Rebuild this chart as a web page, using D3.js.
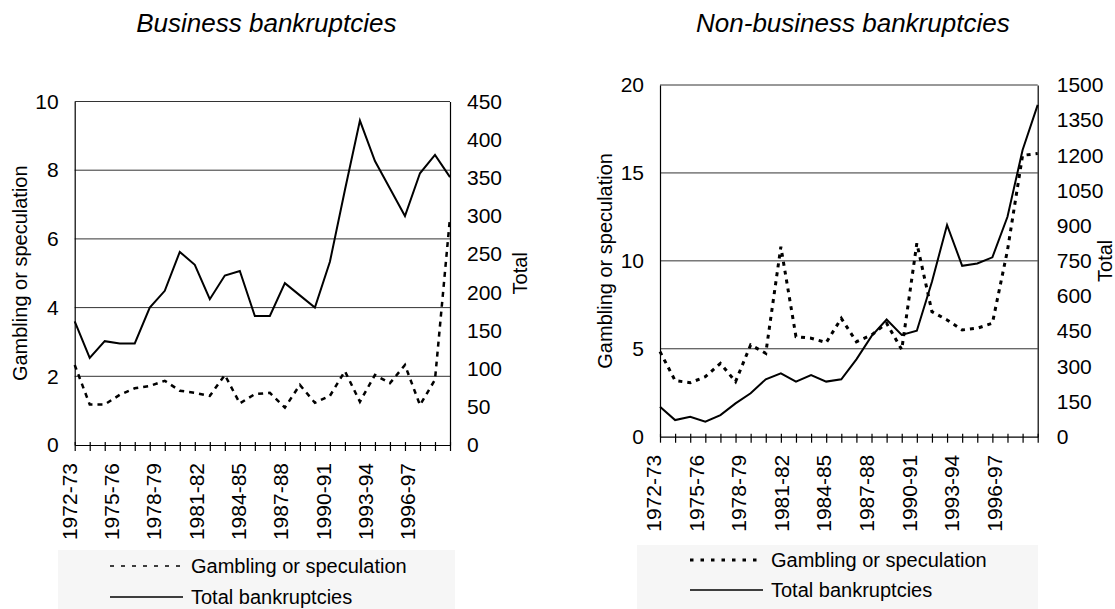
<!DOCTYPE html>
<html>
<head>
<meta charset="utf-8">
<script src="https://cdn.jsdelivr.net/npm/d3@7"></script>
<style>
  body { margin: 0; background: #fff; }
  svg { display: block; }
</style>
</head>
<body>
<div class="chart"></div>
<script>
const FONT = "'Liberation Sans', Arial, Helvetica, sans-serif"

// 年度
const years = [
  "1972-73", "1973-74", "1974-75", "1975-76", "1976-77", "1977-78", "1978-79",
  "1979-80", "1980-81", "1981-82", "1982-83", "1983-84", "1984-85", "1985-86",
  "1986-87", "1987-88", "1988-89", "1989-90", "1990-91", "1991-92", "1992-93",
  "1993-94", "1994-95", "1995-96", "1996-97", "1997-98",
]
// 横轴只标注每三年
const labeledYears = years.filter((d, i) => i % 3 === 0 && i < 25)

// Business bankruptcies
const businessGambling = [
  2.33, 1.18, 1.18, 1.46, 1.65, 1.72, 1.87, 1.58, 1.52, 1.43, 2.04, 1.21, 1.48,
  1.52, 1.09, 1.75, 1.23, 1.43, 2.15, 1.26, 2.04, 1.8, 2.33, 1.16, 1.9, 6.62,
]
const businessTotal = [
  162, 114, 136, 133, 133, 180, 202, 253, 236, 191, 222, 228, 169, 169, 212,
  196, 180, 240, 334, 425, 372, 336, 300, 356, 380, 351,
]

// Non-business bankruptcies
const nonBusinessGambling = [
  4.84, 3.19, 3.07, 3.41, 4.17, 3.13, 5.22, 4.74, 10.8, 5.69, 5.6, 5.35, 6.73,
  5.4, 5.78, 6.45, 4.95, 11.0, 7.11, 6.64, 6.07, 6.17, 6.45, 10.6, 16.0, 16.1,
]
const nonBusinessTotal = [
  128, 71, 85, 64, 92, 142, 185, 245, 270, 235, 263, 235, 245, 330, 429, 500,
  434, 452, 661, 903, 729, 739, 765, 938, 1223, 1415,
]

// 刻度
const businessLeftTicks = [0, 2, 4, 6, 8, 10]
const businessRightTicks = [0, 50, 100, 150, 200, 250, 300, 350, 400, 450]
const nonBusinessLeftTicks = [0, 5, 10, 15, 20]
const nonBusinessRightTicks = [0, 150, 300, 450, 600, 750, 900, 1050, 1200, 1350, 1500]

const legendNames = ["Gambling or speculation", "Total bankruptcies"]

const svg = d3
  .select(".chart")
  .append("svg")
  .attr("width", 1115)
  .attr("height", 609)
  .attr("font-family", FONT)

function styleAxis(axis, size) {
  axis.attr("font-family", FONT).attr("font-size", size)
  axis.select(".domain").attr("stroke", "#000").attr("stroke-width", 1.2)
  axis.selectAll("text").attr("fill", "#000")
}

function drawPanel(cfg) {
  const g = svg.append("g")

  // 比例尺
  const x = d3.scalePoint().domain(years).range([cfg.left, cfg.right])
  // 标签位置比刻度略紧
  const xLabel = d3
    .scalePoint()
    .domain(years)
    .range([cfg.left - cfg.labelShift, cfg.left - cfg.labelShift + (cfg.right - cfg.left) * 0.94])
  const yL = d3.scaleLinear().domain([0, d3.max(cfg.leftTicks)]).range([cfg.bottom, cfg.top])
  const yR = d3.scaleLinear().domain([0, d3.max(cfg.rightTicks)]).range([cfg.bottom, cfg.top])

  // 标题
  g.append("text")
    .attr("x", (cfg.left + cfg.right) / 2 + 4)
    .attr("y", 32)
    .attr("text-anchor", "middle")
    .attr("font-size", 26)
    .attr("font-style", "italic")
    .text(cfg.title)

  // 网格线
  g.selectAll(".grid")
    .data(cfg.leftTicks.filter((d) => d > 0))
    .join("line")
    .attr("x1", cfg.left)
    .attr("x2", cfg.right)
    .attr("y1", (d) => yL(d))
    .attr("y2", (d) => yL(d))
    .attr("stroke", "#333")
    .attr("stroke-width", 1)

  // 左右纵轴
  const axL = g
    .append("g")
    .attr("transform", `translate(${cfg.left},0)`)
    .call(d3.axisLeft(yL).tickValues(cfg.leftTicks).tickSize(0).tickPadding(16).tickFormat(d3.format("d")))
  styleAxis(axL, 21)

  const axR = g
    .append("g")
    .attr("transform", `translate(${cfg.right},0)`)
    .call(d3.axisRight(yR).tickValues(cfg.rightTicks).tickSize(0).tickPadding(cfg.rightPad).tickFormat(d3.format("d")))
  styleAxis(axR, 21)

  // 横轴刻度
  const axX = g
    .append("g")
    .attr("transform", `translate(0,${cfg.bottom})`)
    .call(d3.axisBottom(x).tickSizeInner(6).tickSizeOuter(0).tickFormat(""))
  styleAxis(axX, 21)
  axX.selectAll(".tick line").attr("y1", -3).attr("stroke", "#000").attr("stroke-width", 1.2)

  // 横轴标签
  const axLab = g
    .append("g")
    .attr("transform", `translate(0,${cfg.bottom})`)
    .call(d3.axisBottom(xLabel).tickValues(labeledYears).tickSize(0))
  styleAxis(axLab, 21)
  axLab.select(".domain").remove()
  axLab
    .selectAll("text")
    .attr("transform", "rotate(-90)")
    .attr("x", -18)
    .attr("y", 0)
    .attr("dy", "0.36em")
    .attr("text-anchor", "end")

  // 纵轴标题
  g.append("text")
    .attr("transform", `translate(${cfg.left - 48},${(cfg.top + cfg.bottom) / 2}) rotate(-90)`)
    .attr("text-anchor", "middle")
    .attr("font-size", 20)
    .text("Gambling or speculation")
  g.append("text")
    .attr("transform", `translate(${cfg.totalX},${(cfg.top + cfg.bottom) / 2}) rotate(-90)`)
    .attr("text-anchor", "middle")
    .attr("font-size", 20)
    .text("Total")

  // 折线
  const lineL = d3.line().x((d, i) => x(years[i])).y((d) => yL(d))
  const lineR = d3.line().x((d, i) => x(years[i])).y((d) => yR(d))

  g.append("path")
    .datum(cfg.total)
    .attr("d", lineR)
    .attr("fill", "none")
    .attr("stroke", "#000")
    .attr("stroke-width", 2)
    .attr("stroke-linejoin", "miter")

  g.append("path")
    .datum(cfg.gambling)
    .attr("d", lineL)
    .attr("fill", "none")
    .attr("stroke", "#000")
    .attr("stroke-width", cfg.dashWidth)
    .attr("stroke-dasharray", cfg.dash)

  // 图例
  const lg = g.append("g")
  lg.append("rect")
    .attr("x", cfg.legend.x)
    .attr("y", cfg.legend.y)
    .attr("width", cfg.legend.w)
    .attr("height", cfg.legend.h)
    .attr("fill", "#f6f6f6")

  const rows = lg
    .selectAll(".row")
    .data(legendNames)
    .join("g")
    .attr("transform", (d, i) => `translate(0,${cfg.legend.rowY[i]})`)

  rows.append("line")
    .attr("x1", cfg.legend.lineX[0])
    .attr("x2", cfg.legend.lineX[1])
    .attr("stroke", "#000")
    .attr("stroke-width", (d, i) => (i === 0 ? cfg.legend.dashWidth : 1.5))
    .attr("stroke-dasharray", (d, i) => (i === 0 ? cfg.legend.dash : null))

  rows.append("text")
    .attr("x", cfg.legend.lineX[1] + 8)
    .attr("dy", "0.35em")
    .attr("font-size", 20)
    .text((d) => d)
}

drawPanel({
  title: "Business bankruptcies",
  left: 74.7,
  right: 450,
  top: 101.5,
  bottom: 445,
  labelShift: 6,
  rightPad: 17,
  totalX: 527,
  leftTicks: businessLeftTicks,
  rightTicks: businessRightTicks,
  gambling: businessGambling,
  total: businessTotal,
  dash: "5,5",
  dashWidth: 2.5,
  legend: {
    x: 58, y: 550, w: 397, h: 59,
    rowY: [566, 597],
    lineX: [110, 183],
    dash: "4,7",
    dashWidth: 1.5,
  },
})

drawPanel({
  title: "Non-business bankruptcies",
  left: 660,
  right: 1037.7,
  top: 85,
  bottom: 436.7,
  labelShift: 7,
  rightPad: 19,
  totalX: 1112,
  leftTicks: nonBusinessLeftTicks,
  rightTicks: nonBusinessRightTicks,
  gambling: nonBusinessGambling,
  total: nonBusinessTotal,
  dash: "4,5",
  dashWidth: 3,
  legend: {
    x: 637, y: 545, w: 401, h: 64,
    rowY: [560, 590],
    lineX: [690, 763],
    dash: "3.5,7",
    dashWidth: 3,
  },
})
</script>
</body>
</html>
